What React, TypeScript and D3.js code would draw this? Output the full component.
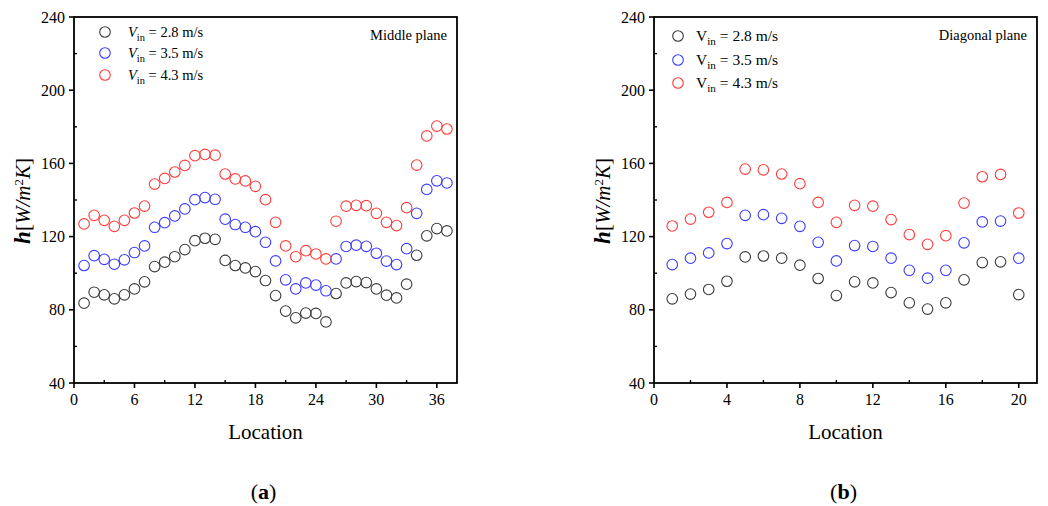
import React from "react";
import * as d3 from "d3";

const locA = d3.range(1, 38);
const midV28 = [83.6, 89.6, 88.2, 86, 88.2, 91.4, 95.3, 103.6, 106, 109, 112.9, 117.8, 119.1, 118.5, 107, 104.2, 102.9, 100.9, 96, 87.8, 79.3, 75.6, 78.2, 78, 73.4, 88.9, 94.7, 95.4, 94.9, 91.4, 88, 86.5, 94, 109.8, 120.4, 124.4, 123.1];
const midV35 = [104.2, 109.6, 107.6, 104.9, 107.3, 111.3, 114.9, 125.1, 127.6, 131.3, 135.1, 140.2, 141.3, 140.4, 129.5, 126.6, 125.1, 122.7, 116.9, 106.7, 96.4, 91.4, 94.7, 93.5, 90.4, 107.8, 114.6, 115.3, 114.7, 110.9, 106.6, 104.7, 113.4, 132.7, 145.8, 150.5, 149.3];
const midV43 = [126.9, 131.6, 128.9, 125.6, 128.9, 132.9, 136.7, 148.7, 151.8, 155.3, 158.9, 164.2, 164.9, 164.5, 154.2, 151.5, 150.4, 147.5, 140.2, 127.8, 114.9, 109, 112.3, 110.5, 107.8, 128.4, 136.6, 137.1, 136.9, 132.7, 127.8, 126, 135.8, 159.1, 175, 180.4, 178.8];

const locB = d3.range(1, 21);
const diaV28 = [86, 88.6, 91.1, 95.6, 108.9, 109.4, 108.2, 104.4, 97.1, 87.8, 95.3, 94.7, 89.4, 83.8, 80.4, 83.8, 96.4, 105.8, 106.2, 88.3];
const diaV35 = [104.7, 108.2, 111.1, 116.2, 131.6, 132, 130, 125.6, 116.9, 106.7, 115.1, 114.6, 108.2, 101.6, 97.3, 101.6, 116.6, 128, 128.5, 108.2];
const diaV43 = [125.8, 129.6, 133.3, 138.7, 156.9, 156.5, 154.2, 148.9, 138.7, 127.8, 137.1, 136.6, 129.3, 121.1, 115.8, 120.5, 138.3, 152.7, 154, 132.9];

const legendLabels = ["2.8 m/s", "3.5 m/s", "4.3 m/s"];
const colors = ["#3c3c3c", "#3b3bff", "#ff3b3b"];
const yTicks = [40, 80, 120, 160, 200, 240];
const yMinor = [60, 100, 140, 180, 220];
const xTicksA = [0, 6, 12, 18, 24, 30, 36];
const xMinorA = [3, 9, 15, 21, 27, 33];
const xTicksB = [0, 4, 8, 12, 16, 20];
const xMinorB = [2, 6, 10, 14, 18];

const FONT = "Liberation Serif, Times New Roman, serif";

type PanelProps = {
  x0: number; x1: number; xMax: number;
  xTicks: number[]; xMinor: number[];
  locs: number[]; series: number[][];
  title: string; titleSize: number; letter: string;
  legX: number; legTextX: number; legY: number[]; legItalic: boolean; legSize: number;
};

function Panel(p: PanelProps) {
  const y0 = 17, y1 = 383;
  const x = d3.scaleLinear().domain([0, p.xMax]).range([p.x0, p.x1]);
  const y = d3.scaleLinear().domain([40, 240]).range([y1, y0]);
  const cx = (p.x0 + p.x1) / 2;
  return (
    <g style={{ fontFamily: FONT }}>
      <rect x={p.x0} y={y0} width={p.x1 - p.x0} height={y1 - y0} fill="none" stroke="#000" strokeWidth={1.8} />
      {yTicks.map((t) => (
        <g key={"y" + t}>
          <line x1={p.x0 - 5} x2={p.x0} y1={y(t)} y2={y(t)} stroke="#000" strokeWidth={1.6} />
          <text x={p.x0 - 9} y={y(t)} dy="0.35em" textAnchor="end" fontSize={16}>{t}</text>
        </g>
      ))}
      {yMinor.map((t) => (
        <line key={"ym" + t} x1={p.x0} x2={p.x0 + 3} y1={y(t)} y2={y(t)} stroke="#000" strokeWidth={1.4} />
      ))}
      {p.xTicks.map((t) => (
        <g key={"x" + t}>
          <line x1={x(t)} x2={x(t)} y1={y1} y2={y1 + 5} stroke="#000" strokeWidth={1.6} />
          <text x={x(t)} y={405} textAnchor="middle" fontSize={16}>{t}</text>
        </g>
      ))}
      {p.xMinor.map((t) => (
        <line key={"xm" + t} x1={x(t)} x2={x(t)} y1={y1} y2={y1 - 3} stroke="#000" strokeWidth={1.4} />
      ))}
      {p.series.map((s, si) =>
        s.map((v, i) => (
          <circle key={si + "-" + i} cx={x(p.locs[i])} cy={y(v)} r={5.3} fill="none" stroke={colors[si]} strokeWidth={1.1} />
        ))
      )}
      {legendLabels.map((l, i) => (
        <g key={"leg" + i}>
          <circle cx={p.legX} cy={p.legY[i]} r={5.3} fill="none" stroke={colors[i]} strokeWidth={1.1} />
          <text x={p.legTextX} y={p.legY[i]} dy="0.35em" fontSize={p.legSize}>
            <tspan fontStyle={p.legItalic ? "italic" : "normal"}>V</tspan>
            <tspan fontSize={p.legSize * 0.72} dy="0.35em">in</tspan>
            <tspan dy="-0.25em">{" = " + l}</tspan>
          </text>
        </g>
      ))}
      <text x={p.x1 - 10} y={40} textAnchor="end" fontSize={p.titleSize}>{p.title}</text>
      <text x={cx} y={439} textAnchor="middle" fontSize={21}>Location</text>
      <text x={cx - 2} y={499} textAnchor="middle" fontSize={22}>
        (<tspan fontWeight="bold">{p.letter}</tspan>)
      </text>
      <text transform={`translate(${p.x0 - 44},201) rotate(-90)`} textAnchor="middle" fontSize={21}>
        <tspan fontWeight="bold" fontStyle="italic" fontSize={23}>h</tspan>
        <tspan>[</tspan>
        <tspan fontStyle="italic">W/m</tspan>
        <tspan fontSize={13} dy="-0.55em">2</tspan>
        <tspan fontStyle="italic" dy="0.35em">K</tspan>
        <tspan>]</tspan>
      </text>
    </g>
  );
}

export default function App() {
  return (
    <svg width={1048} height={506} style={{ position: "absolute", left: 0, top: 0, background: "#fff" }}>
      <rect x={0} y={0} width={1048} height={506} fill="#fff" />
      <Panel x0={74} x1={457} xMax={38} xTicks={xTicksA} xMinor={xMinorA} locs={locA}
        series={[midV28, midV35, midV43]} title="Middle plane" titleSize={14.5} letter="a"
        legX={105} legTextX={128} legY={[32, 53, 75]} legItalic={true} legSize={14.5} />
      <Panel x0={654} x1={1037} xMax={21} xTicks={xTicksB} xMinor={xMinorB} locs={locB}
        series={[diaV28, diaV35, diaV43]} title="Diagonal plane" titleSize={14.5} letter="b"
        legX={678} legTextX={696} legY={[36, 60, 83]} legItalic={false} legSize={15.5} />
    </svg>
  );
}
